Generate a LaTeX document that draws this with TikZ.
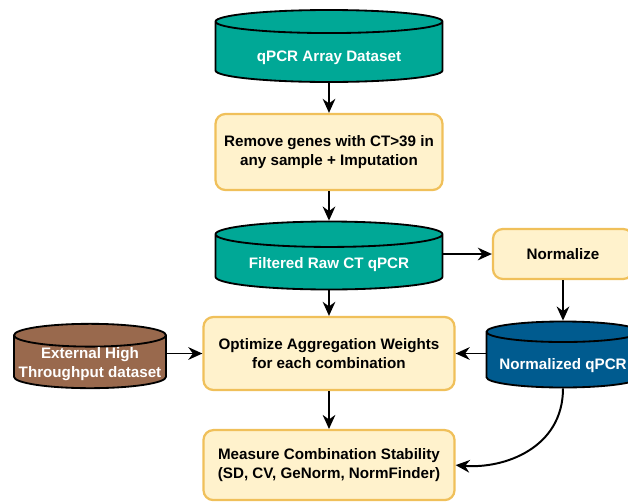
\documentclass[tikz,border=0pt]{standalone}
\usepackage{fontspec}
\setmainfont{Liberation Sans}
\usepackage{tikz}
\usetikzlibrary{shapes.geometric,arrows.meta}
\definecolor{dbteal}{HTML}{00A896}
\definecolor{dbblue}{HTML}{005B8F}
\definecolor{dbbrown}{HTML}{99694D}
\definecolor{stepfill}{HTML}{FFF2CC}
\definecolor{stepline}{HTML}{F0C05A}
\tikzstyle{db} = [cylinder, shape border rotate=90, aspect=0.15, draw=black, line width=1.3pt, inner ysep=0pt, cylinder uses custom fill, anchor=shape center, text=white, align=center, font=\fontsize{10.8}{13.5}\selectfont\bfseries]
\tikzstyle{tealdb} = [db, cylinder body fill=dbteal, cylinder end fill=dbteal]
\tikzstyle{bluedb} = [db, cylinder body fill=dbblue, cylinder end fill=dbblue]
\tikzstyle{browndb} = [db, cylinder body fill=dbbrown, cylinder end fill=dbbrown]
\tikzstyle{process} = [rectangle, rounded corners=7pt, align=center, draw=stepline, line width=1.6pt, fill=stepfill, font=\fontsize{10.8}{13.5}\selectfont\bfseries]
\tikzstyle{arrow} = [line width=1.4pt,->,>={Stealth[length=10pt,width=9pt]}]
% push a one-line cylinder label a bit further down
\newcommand{\lowered}[1]{\raisebox{-2.5pt}[\height][\depth]{#1}}

\begin{document}
\begin{tikzpicture}[node distance=2.5cm]
\useasboundingbox (0,0) rectangle (15.7,-12.55);

\node (rawarray) [tealdb, minimum width=5.675cm, minimum height=1.8cm] at (8.225,-1.15) {\lowered{qPCR Array Dataset}};

\node (filtergenes) [process, minimum width=5.675cm, minimum height=1.9cm] at (8.225,-3.8) {Remove genes with CT>39 in\\any sample + Imputation};

\node (filtered) [tealdb, minimum width=5.675cm, minimum height=1.7cm] at (8.225,-6.3875) {Filtered Raw CT qPCR};

\node (normalize) [process, minimum width=3.5cm, minimum height=1.25cm] at (14.075,-6.35) {Normalize};

\node (normed) [bluedb, minimum width=3.825cm, minimum height=1.65cm] at (14.075,-8.8625) {\lowered{Normalized qPCR}};

\node (optimize) [process, below of=filtergenes, yshift=-2.5375cm, minimum width=6.275cm, minimum height=1.825cm] {Optimize Aggregation Weights\\for each combination};

\node (external) [browndb, minimum width=3.8cm, minimum height=1.525cm] at (2.25,-8.9) {External High\\Throughput dataset};

\node (stability) [process, below of=optimize, yshift=-0.29cm, minimum width=6.275cm, minimum height=1.75cm] {Measure Combination Stability\\(SD, CV, GeNorm, NormFinder)};

\draw [arrow] (rawarray) -- (filtergenes);
\draw [arrow] (filtergenes) -- (filtered);
\draw [arrow] (filtered.east |- normalize) -- (normalize);
\draw [arrow] (normalize) -- (normed);
\draw [arrow] (filtered) -- (optimize);
\draw [arrow] (external.east |- optimize) -- (optimize);
\draw [arrow] (normed.west |- optimize) -- (optimize);
\draw [arrow] (optimize) -- (stability);
\draw [arrow] (normed.south) .. controls +(0,-1.5) and +(1.2,-0.1) .. (stability.east);

\end{tikzpicture}
\end{document}
